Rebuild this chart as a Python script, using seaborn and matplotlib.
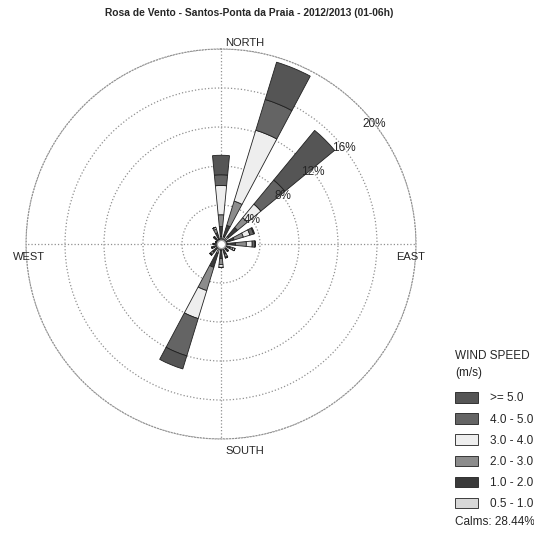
import numpy as np
import matplotlib
matplotlib.use("Agg")
import matplotlib.pyplot as plt
import seaborn as sns

#-------------------
# DATA (frequency %)
#-------------------
directions = ['N', 'NNE', 'NE', 'ENE', 'E', 'ESE', 'SE', 'SSE',
              'S', 'SSW', 'SW', 'WSW', 'W', 'WNW', 'NW', 'NNW']
speed_bins = ['0.5 - 1.0', '1.0 - 2.0', '2.0 - 3.0', '3.0 - 4.0', '4.0 - 5.0', '>= 5.0']

f_05_1 = [0.8, 0.8, 1.0, 0.6, 0.6, 0.5, 0.4, 0.5, 0.6, 1.0, 0.5, 0.4, 0.4, 0.3, 0.4, 0.5]
f_1_2 = [1.0, 1.2, 1.2, 0.8, 0.9, 0.5, 0.4, 0.6, 0.9, 1.5, 0.6, 0.4, 0.3, 0.2, 0.4, 0.7]
f_2_3 = [1.2, 2.6, 1.3, 1.0, 1.1, 0.3, 0.2, 0.3, 0.6, 2.5, 0.3, 0.2, 0.1, 0.1, 0.2, 0.4]
f_3_4 = [3.0, 7.6, 1.8, 0.7, 0.6, 0.2, 0.0, 0.1, 0.3, 3.0, 0.1, 0.0, 0.0, 0.0, 0.0, 0.2]
f_4_5 = [1.1, 3.3, 3.2, 0.4, 0.3, 0.0, 0.0, 0.0, 0.0, 4.0, 0.0, 0.0, 0.0, 0.0, 0.0, 0.0]
f_5 = [2.0, 4.0, 6.6, 0.1, 0.0, 0.0, 0.0, 0.0, 0.0, 1.4, 0.0, 0.0, 0.0, 0.0, 0.0, 0.0]
freqs = [f_05_1, f_1_2, f_2_3, f_3_4, f_4_5, f_5]

ring_values = [4, 8, 12, 16, 20]
calms = 28.44
title = 'Rosa de Vento - Santos-Ponta da Praia - 2012/2013 (01-06h)'

# grey shades of the scanned colours
colors = ['#d8d8d8', '#3a3a3a', '#8c8c8c', '#eeeeee', '#646464', '#555555']

#-------------------
# PLOT
#-------------------
sns.set_style("white")
plt.rcParams['font.family'] = ['Liberation Sans', 'DejaVu Sans']

fig = plt.figure(figsize=(5.34, 5.37), dpi=100)
W, H = 534, 537
cx, cy, rad = 221, 244, 195
ax = fig.add_axes([(cx - rad) / W, (H - cy - rad) / H, 2 * rad / W, 2 * rad / H],
                  projection='polar')
ax.set_theta_zero_location('N')
ax.set_theta_direction(-1)

theta = np.deg2rad(np.arange(len(directions)) * 22.5)
width = np.deg2rad(11)
bottom = np.zeros(len(directions))
handles = []
for lab, vals, col in zip(speed_bins, freqs, colors):
    vals = np.array(vals)
    b = ax.bar(theta, vals, width=width, bottom=bottom, color=col,
               edgecolor='#202020', linewidth=0.6, label=lab, zorder=3)
    handles.append(b)
    bottom = bottom + vals

ax.set_ylim(0, 20)
ax.set_yticks(ring_values)
ax.set_yticklabels([])
ax.set_xticks(np.deg2rad([0, 90, 180, 270]))
ax.set_xticklabels([])
ax.grid(True, color='#909090', linestyle=':', linewidth=0.9)
ax.spines['polar'].set_color('#909090')
ax.spines['polar'].set_linestyle(':')
ax.set_facecolor('none')
ax.plot([0], [0], 'o', color='white', ms=6, mec='#a0a0a0', zorder=5)

for r in ring_values:
    ax.text(np.deg2rad(52), r, f'{r}%', fontsize=8.5, ha='center', va='center', zorder=6)

# compass labels
fig.text(225 / W, 1 - 43 / H, 'NORTH', fontsize=8, ha='left', va='center')
fig.text(225 / W, 1 - 451 / H, 'SOUTH', fontsize=8, ha='left', va='center')
fig.text(13 / W, 1 - 257 / H, 'WEST', fontsize=8, ha='left', va='center')
fig.text(396 / W, 1 - 257 / H, 'EAST', fontsize=8, ha='left', va='center')

fig.text(249 / W, 1 - 13 / H, title, fontsize=7.4, fontweight='bold', ha='center', va='center')

# legend
fig.text(455 / W, 1 - 356 / H, 'WIND SPEED', fontsize=8.5, ha='left', va='center')
fig.text(455 / W, 1 - 373 / H, '(m/s)', fontsize=8.5, ha='left', va='center')
fig.legend(handles=handles[::-1], labels=speed_bins[::-1], loc='upper left',
           bbox_to_anchor=(455 / W, 1 - 392 / H), frameon=False, fontsize=8.5,
           borderpad=0, borderaxespad=0, handlelength=1.95, handleheight=1.0,
           handletextpad=1.0, labelspacing=0.75)
fig.text(455 / W, 1 - 522 / H, f'Calms: {calms:.2f}%', fontsize=8.5, ha='left', va='center')

fig.savefig('out.png', dpi=100)
